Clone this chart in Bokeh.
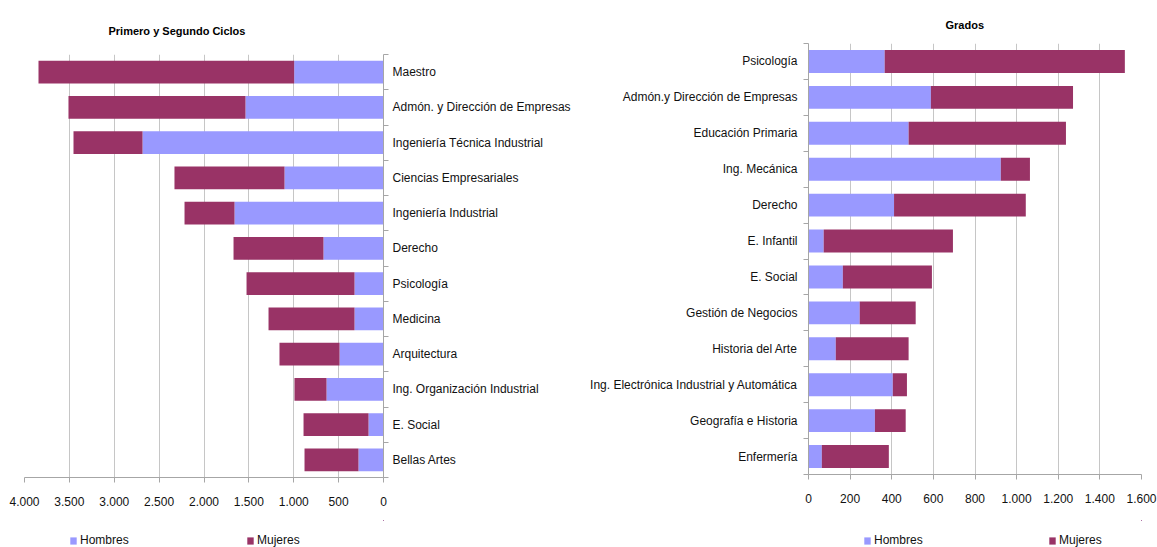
from bokeh.plotting import figure
from bokeh.models import Range1d, FixedTicker, Legend, LegendItem, ColumnDataSource, Title
from bokeh.layouts import row, column
from bokeh.embed import file_html
from bokeh.resources import INLINE

# ---------------- data ----------------
ciclos_cats = ["Maestro", "Admón. y Dirección de Empresas", "Ingeniería Técnica Industrial",
               "Ciencias Empresariales", "Ingeniería Industrial", "Derecho", "Psicología",
               "Medicina", "Arquitectura", "Ing. Organización Industrial", "E. Social", "Bellas Artes"]
ciclos_hombres = [995, 1538, 2685, 1103, 1660, 669, 323, 323, 490, 635, 167, 279]
ciclos_mujeres = [2849, 1972, 769, 1226, 557, 1002, 1203, 958, 669, 357, 724, 601]
ciclos_ticks = [0, 500, 1000, 1500, 2000, 2500, 3000, 3500, 4000]

grados_cats = ["Psicología", "Admón.y Dirección de Empresas", "Educación Primaria", "Ing. Mecánica",
               "Derecho", "E. Infantil", "E. Social", "Gestión de Negocios", "Historia del Arte",
               "Ing. Electrónica Industrial y Automática", "Geografía e Historia", "Enfermería"]
grados_hombres = [366, 588, 481, 924, 411, 73, 165, 246, 131, 405, 319, 64]
grados_mujeres = [1154, 683, 756, 140, 633, 621, 428, 269, 350, 68, 148, 322]
grados_ticks = [0, 200, 400, 600, 800, 1000, 1200, 1400, 1600]

series_names = ["Hombres", "Mujeres"]
series_colors = ["#9999FF", "#993366"]

FONT = "Liberation Sans"
GRID = "#c6c6c6"
AXIS = "#a6a6a6"
LABEL_SIZE = "12px"


def fmt(v):
    return f"{v:,}".replace(",", ".")


def make_source(hombres, mujeres):
    n = len(hombres)
    return ColumnDataSource(dict(pos=[n - 1 - i for i in range(n)], Hombres=hombres, Mujeres=mujeres))


def make_chart(title, cats, src, ticks, reverse, width, height,
               border_left, border_right, border_top, border_bottom,
               title_offset, title_standoff, label_standoff):
    n = len(cats)
    pos = [n - 1 - i for i in range(n)]
    lo, hi = ticks[0], ticks[-1]
    x_range = Range1d(hi, lo) if reverse else Range1d(lo, hi)
    p = figure(width=width, height=height, x_range=x_range, y_range=Range1d(-0.5, n - 0.5),
               output_backend="svg", toolbar_location=None,
               y_axis_location="right" if reverse else "left",
               min_border_left=border_left, min_border_right=border_right,
               min_border_top=border_top, min_border_bottom=border_bottom)
    p.outline_line_color = None
    p.background_fill_color = "white"

    t = Title(text=title, align="left", offset=title_offset, standoff=title_standoff,
              text_font=FONT, text_font_size="11px", text_font_style="bold",
              text_color="#000000")
    p.add_layout(t, "above")

    p.hbar_stack(series_names, y="pos", height=0.64, color=series_colors,
                 line_color=None, source=src)

    # x axis
    xa = p.xaxis[0]
    xa.ticker = FixedTicker(ticks=ticks)
    xa.major_label_overrides = {v: fmt(v) for v in ticks}
    xa.axis_line_color = AXIS
    xa.major_tick_line_color = AXIS
    xa.major_tick_out = 5
    xa.major_tick_in = 0
    xa.minor_tick_line_color = None
    xa.major_label_text_font = FONT
    xa.major_label_text_font_size = LABEL_SIZE
    xa.major_label_text_color = "#111111"
    xa.major_label_standoff = 14

    # y axis (categories)
    ya = p.yaxis[0]
    ya.ticker = FixedTicker(ticks=pos, minor_ticks=[k - 0.5 for k in range(n + 1)])
    ya.major_label_overrides = {pos[i]: cats[i] for i in range(n)}
    ya.axis_line_color = AXIS
    ya.major_tick_line_color = None
    ya.major_tick_out = 0
    ya.major_tick_in = 0
    ya.minor_tick_line_color = AXIS
    ya.minor_tick_out = 5
    ya.minor_tick_in = 0
    ya.major_label_text_font = FONT
    ya.major_label_text_font_size = LABEL_SIZE
    ya.major_label_text_color = "#111111"
    ya.major_label_standoff = label_standoff

    p.xgrid.ticker = FixedTicker(ticks=ticks)
    p.xgrid.grid_line_color = GRID
    p.ygrid.grid_line_color = None
    return p


def make_legend(src, width, height, x_off, y_off, spacing):
    # bars of the same source, kept out of view; only the legend is seen
    lg = figure(width=width, height=height, x_range=Range1d(-2, -1), y_range=Range1d(-2, -1),
                output_backend="svg", toolbar_location=None,
                x_axis_type=None, y_axis_type=None,
                min_border_left=0, min_border_right=0, min_border_top=0, min_border_bottom=0)
    lg.outline_line_color = None
    lg.xgrid.visible = False
    lg.ygrid.visible = False
    rs = lg.hbar_stack(series_names, y="pos", height=0.64, color=series_colors,
                       line_color=None, source=src)
    legend = Legend(items=[LegendItem(label=series_names[k], renderers=[rs[k]]) for k in range(2)],
                    orientation="horizontal", location=(x_off, y_off),
                    padding=0, margin=0, spacing=spacing, label_width=60,
                    glyph_width=8, glyph_height=9, label_standoff=3,
                    border_line_color=None, background_fill_alpha=0,
                    label_text_font=FONT, label_text_font_size=LABEL_SIZE,
                    label_text_color="#111111")
    lg.add_layout(legend)
    return lg


ciclos_src = make_source(ciclos_hombres, ciclos_mujeres)
grados_src = make_source(grados_hombres, grados_mujeres)

left = make_chart("Primero y Segundo Ciclos", ciclos_cats, ciclos_src, ciclos_ticks, True,
                  580, 520, 24, 197, 54, 43, 84, 36, 4)
right = make_chart("Grados", grados_cats, grados_src, grados_ticks, False,
                   577, 520, 228, 16, 43, 46, 137, 25, 6)
left_legend = make_legend(ciclos_src, 580, 27, 45, 0, 106)
right_legend = make_legend(grados_src, 577, 27, 55, 0, 114)

layout = row(column(left, left_legend), column(right, right_legend))
open("out.html", "w").write(file_html(layout, INLINE))
